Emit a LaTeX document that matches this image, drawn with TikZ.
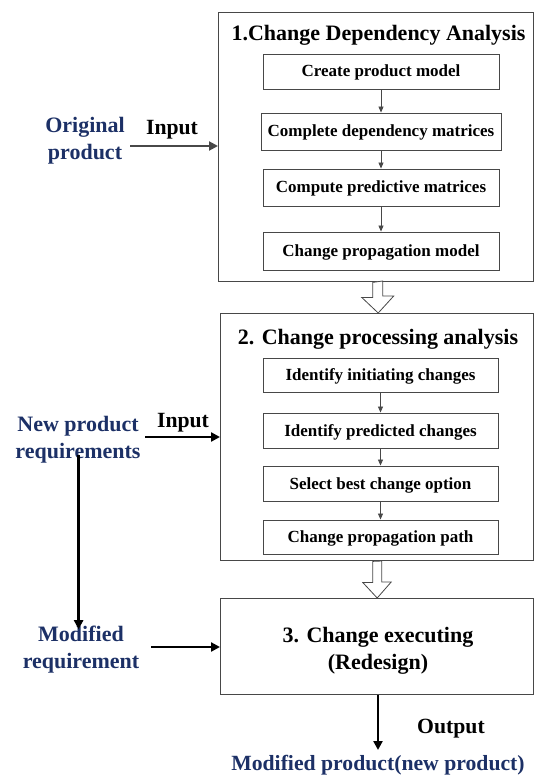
\documentclass[tikz,border=0pt]{standalone}
\usepackage{fontspec}
\setmainfont{Liberation Serif}[BoldFont={Liberation Serif Bold}]
\usetikzlibrary{calc,arrows.meta}
\definecolor{navy}{RGB}{28,48,102}
\definecolor{edgegray}{RGB}{72,72,72}
\begin{document}
\begin{tikzpicture}[x=1pt,y=-1pt,
  outerbox/.style={draw=edgegray,line width=1.4pt,anchor=north west,inner sep=0pt},
  innerbox/.style={draw=edgegray,line width=0.9pt,minimum width=236pt,minimum height=35pt,inner sep=0pt,text height=13pt,text depth=2pt,font=\bfseries\fontsize{17}{20}\selectfont},
  titletext/.style={font=\bfseries\fontsize{22}{26}\selectfont,inner sep=0pt},
  bluetext/.style={text=navy,align=center,font=\bfseries\fontsize{22}{27}\selectfont,inner sep=0pt},
  labeltext/.style={font=\bfseries\fontsize{21.7}{26}\selectfont,inner sep=0pt},
  smallarrow/.style={draw=edgegray,line width=0.8pt,-{Triangle[length=6pt,width=5pt]}},
  grayarrow/.style={draw=edgegray,line width=2pt,-{Triangle[length=9pt,width=9pt]}},
  blackarrow/.style={draw=black,line width=2.4pt,-{Triangle[length=9pt,width=9pt]}},
  hollow/.style={draw=edgegray,line width=0.8pt,fill=white}
]
\useasboundingbox (0,0) rectangle (536,778);

% Box 1
\node[outerbox,minimum width=315pt,minimum height=269pt] (b1) at (218,12) {};
\node[titletext] (t1) at (378.5,35) {1.Change Dependency Analysis};
\node[innerbox] (c1) at (381,71.5) {Create product model};
\node[innerbox,minimum width=240pt,minimum height=37pt] (c2) at (381,131.5) {Complete dependency matrices};
\node[innerbox,minimum height=37pt] (c3) at (381,187.5) {Compute predictive matrices};
\node[innerbox,minimum height=38pt] (c4) at (381,251) {Change propagation model};
\draw[smallarrow] (c1) -- (c2);
\draw[smallarrow] (c2) -- (c3);
\draw[smallarrow] (c3) -- (c4);

% Box 2
\node[outerbox,minimum width=313pt,minimum height=247pt] (b2) at (220,313) {};
\node[titletext] (t2) at (378,339) {2. Change processing analysis};
\node[innerbox,minimum width=235pt,minimum height=34pt] (d1) at (380.5,375) {Identify initiating changes};
\node[innerbox,minimum width=235pt,minimum height=35pt] (d2) at (380.5,430.5) {Identify predicted changes};
\node[innerbox,minimum width=235pt,minimum height=35pt] (d3) at (380.5,483.5) {Select best change option};
\node[innerbox,minimum width=235pt,minimum height=34pt] (d4) at (380.5,537) {Change propagation path};
\draw[smallarrow] (d1) -- (d2);
\draw[smallarrow] (d2) -- (d3);
\draw[smallarrow] (d3) -- (d4);

% Box 3
\node[outerbox,minimum width=313pt,minimum height=96pt] (b3) at (220,598) {};
\node[titletext,align=center,font=\bfseries\fontsize{22}{27}\selectfont] (t3) at (378,651) {3. Change executing\\(Redesign)};

% hollow arrows
\draw[hollow] ($(b1.south)+(-3.5,0)$) -- ++(0,15) -- ++(-11,0) -- ($(b2.north)+(1,0)$) -- ++(15.5,-17) -- ++(-11,0) -- ++(0,-15) -- cycle;
\draw[hollow] ($(b2.south)+(-4.5,0)$) -- ++(0,21) -- ++(-10,0) -- ($(b3.north)+(0,0)$) -- ++(14,-16) -- ++(-9.5,0) -- ++(0,-21) -- cycle;

% left side
\node[bluetext] (orig) at (85,141) {Original\\product};
\node[labeltext] (in1) at (172,130) {Input};
\coordinate (a1) at (130,146);
\draw[grayarrow] (a1) -- (a1 -| b1.west);

\node[bluetext] (newreq) at (78,439.5) {New product\\requirements};
\node[labeltext] (in2) at (183,423) {Input};
\coordinate (a2) at (145,437);
\draw[blackarrow] (a2) -- (a2 -| b2.west);

\node[bluetext] (modreq) at (81,650) {Modified\\requirement};
\coordinate (a3) at (151,647);
\draw[blackarrow] (a3) -- (a3 -| b3.west);
\coordinate (v1) at (78.6,455);
\draw[blackarrow] (v1) -- ($(modreq.north -| v1)+(0,3)$);

% output
\coordinate (o1) at (378,750);
\draw[blackarrow] (b3.south -| o1) -- (o1);
\node[labeltext] (out) at (451,729) {Output};
\node[bluetext,font=\bfseries\fontsize{21.7}{27}\selectfont] (modprod) at (378,765.5) {Modified product(new product)};
\end{tikzpicture}
\end{document}
